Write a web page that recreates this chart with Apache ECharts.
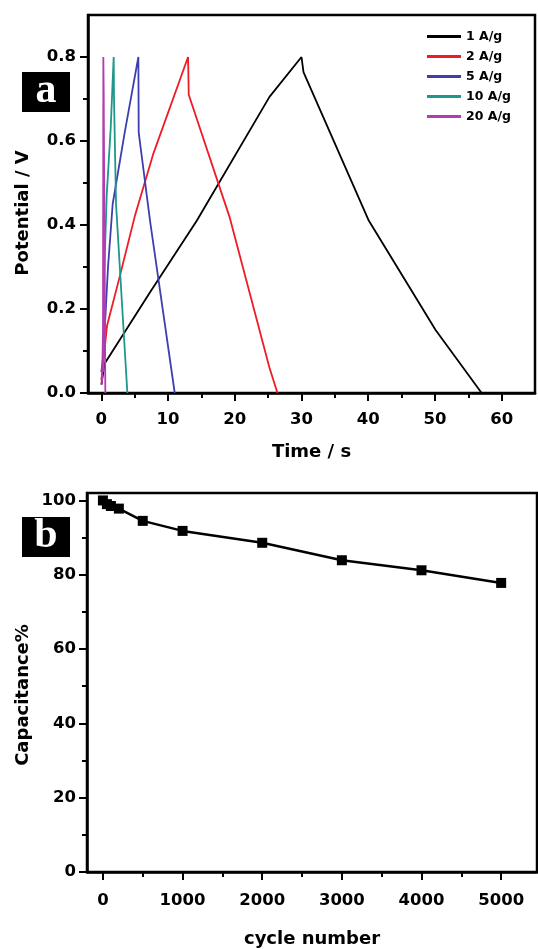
<!DOCTYPE html>
<html><head><meta charset="utf-8">
<script src="https://cdn.jsdelivr.net/npm/echarts@6/dist/echarts.min.js"></script>
<style>html,body{margin:0;padding:0;background:#fff}#c{width:538px;height:949px}</style>
</head><body><div id="c"></div>
<script>
// ---- Panel a: galvanostatic charge/discharge ----
const seriesNames = ['1 A/g', '2 A/g', '5 A/g', '10 A/g', '20 A/g'];
const seriesColors = ['#000000', '#ee1c24', '#3d3fae', '#1f978a', '#b23cb0'];
const t_1 = [0, 0.5, 7.3, 14.3, 25.2, 30, 30.3, 40.1, 50.1, 57];
const v_1 = [0.02, 0.07, 0.24, 0.41, 0.705, 0.8, 0.764, 0.41, 0.15, 0];
const t_2 = [0, 0.2, 0.85, 2.8, 5, 7.8, 13, 13.1, 19.2, 25.2, 26.4];
const v_2 = [0.03, 0.06, 0.16, 0.28, 0.42, 0.57, 0.8, 0.71, 0.42, 0.06, 0];
const t_5 = [0, 0.3, 1.0, 1.7, 3.5, 5.55, 5.6, 7.3, 11.0];
const v_5 = [0.05, 0.09, 0.3, 0.45, 0.62, 0.8, 0.62, 0.41, 0];
const t_10 = [0.25, 0.35, 0.45, 0.8, 1.4, 1.85, 1.9, 2.2, 3.9];
const v_10 = [0.05, 0.16, 0.29, 0.47, 0.63, 0.8, 0.7, 0.45, 0];
const t_20 = [0.1, 0.25, 0.3, 0.35, 0.6];
const v_20 = [0.02, 0.15, 0.8, 0.72, 0];
const timeTicks = [0, 10, 20, 30, 40, 50, 60];
const timeMinor = [5, 15, 25, 35, 45, 55];
const potTicks = [0, 0.2, 0.4, 0.6, 0.8];
const potMinor = [0.1, 0.3, 0.5, 0.7];

// ---- Panel b: cycling stability ----
const cycles = [0, 50, 100, 200, 500, 1000, 2000, 3000, 4000, 5000];
const capacitance = [100, 99, 98.5, 97.8, 94.5, 91.8, 88.6, 83.9, 81.2, 77.8];
const cycleTicks = [0, 1000, 2000, 3000, 4000, 5000];
const cycleMinor = [500, 1500, 2500, 3500, 4500];
const capTicks = [0, 20, 40, 60, 80, 100];
const capMinor = [10, 30, 50, 70, 90];

const FONT = 'DejaVu Sans';
const pairs = (xs, ys) => xs.map((x, i) => [x, ys[i]]);
const curves = [[t_1, v_1], [t_2, v_2], [t_5, v_5], [t_10, v_10], [t_20, v_20]];

function majorAxis(grid, min, max, ticks, pos, margin, fmt, extra) {
  return Object.assign({
    gridIndex: grid, type: 'value', min: min, max: max, position: pos,
    axisLine: { show: true, onZero: false, lineStyle: { color: '#000', width: 2.5 } },
    axisTick: { show: true, inside: false, length: 8, customValues: ticks, lineStyle: { color: '#000', width: 2 } },
    axisLabel: { show: true, customValues: ticks, margin: margin, formatter: fmt, color: '#000', fontFamily: FONT, fontWeight: 'bold', fontSize: 16.5 },
    splitLine: { show: false }
  }, extra || {});
}
function minorAxis(grid, min, max, ticks, pos) {
  return {
    gridIndex: grid, type: 'value', min: min, max: max, position: pos,
    axisLine: { show: false, onZero: false },
    axisTick: { show: true, inside: false, length: 5, customValues: ticks, lineStyle: { color: '#000', width: 2 } },
    axisLabel: { show: false },
    splitLine: { show: false }
  };
}

const nameStyle = { color: '#000', fontFamily: FONT, fontWeight: 'bold', fontSize: 18 };
const plain = v => String(v);
const oneDec = v => v.toFixed(1);

const option = {
  animation: false,
  backgroundColor: '#fff',
  grid: [
    { left: 88, right: 3, top: 15, height: 378, show: true, borderColor: '#000', borderWidth: 2.5, backgroundColor: 'transparent' },
    { left: 87, right: 1, top: 493, height: 386, show: true, borderColor: '#000', borderWidth: 2.5, backgroundColor: 'transparent' }
  ],
  xAxis: [
    majorAxis(0, -2, 65, timeTicks, 'bottom', 18, plain, {
      name: 'Time / s', nameLocation: 'middle', nameGap: 50, nameTextStyle: nameStyle
    }),
    minorAxis(0, -2, 65, timeMinor, 'bottom'),
    majorAxis(1, -200, 5450, cycleTicks, 'bottom', 20, plain, {
      name: 'cycle number', nameLocation: 'middle', nameGap: 58, nameTextStyle: nameStyle
    }),
    minorAxis(1, -200, 5450, cycleMinor, 'bottom')
  ],
  yAxis: [
    majorAxis(0, 0, 0.9, potTicks, 'left', 12, oneDec),
    minorAxis(0, 0, 0.9, potMinor, 'left'),
    majorAxis(1, 0, 102, capTicks, 'left', 11, plain),
    minorAxis(1, 0, 102, capMinor, 'left')
  ],
  legend: {
    data: seriesNames, orient: 'vertical', left: 422, top: 25,
    icon: 'rect', itemWidth: 34, itemHeight: 3, itemGap: 7,
    textStyle: { color: '#000', fontFamily: FONT, fontWeight: 'bold', fontSize: 12.5 }
  },
  series: seriesNames.map((n, i) => ({
    name: n, type: 'line', xAxisIndex: 0, yAxisIndex: 0,
    data: pairs(curves[i][0], curves[i][1]),
    showSymbol: false, symbol: 'none',
    color: seriesColors[i],
    lineStyle: { color: seriesColors[i], width: 1.8 }
  })).concat([{
    name: 'Capacitance', type: 'line', xAxisIndex: 2, yAxisIndex: 2,
    data: pairs(cycles, capacitance),
    symbol: 'rect', symbolSize: 10, color: '#000',
    itemStyle: { color: '#000' },
    lineStyle: { color: '#000', width: 2.5 }
  }]),
  graphic: [
    { type: 'rect', left: 22, top: 72, shape: { width: 48, height: 40 }, style: { fill: '#000' } },
    { type: 'text', x: 46, y: 91, style: { text: 'a', fill: '#fff', font: 'bold 42px "Liberation Serif"', align: 'center', verticalAlign: 'middle' } },
    { type: 'rect', left: 22, top: 517, shape: { width: 48, height: 40 }, style: { fill: '#000' } },
    { type: 'text', x: 46, y: 536, style: { text: 'b', fill: '#fff', font: 'bold 42px "Liberation Serif"', align: 'center', verticalAlign: 'middle' } },
    { type: 'text', x: 23, y: 213, rotation: Math.PI / 2, style: { text: 'Potential / V', fill: '#000', font: 'bold 18px "DejaVu Sans"', align: 'center', verticalAlign: 'middle' } },
    { type: 'text', x: 23, y: 695, rotation: Math.PI / 2, style: { text: 'Capacitance%', fill: '#000', font: 'bold 18px "DejaVu Sans"', align: 'center', verticalAlign: 'middle' } }
  ]
};
const chart = echarts.init(document.getElementById('c'), null, { renderer: 'canvas' });
chart.setOption(option);
</script></body></html>
